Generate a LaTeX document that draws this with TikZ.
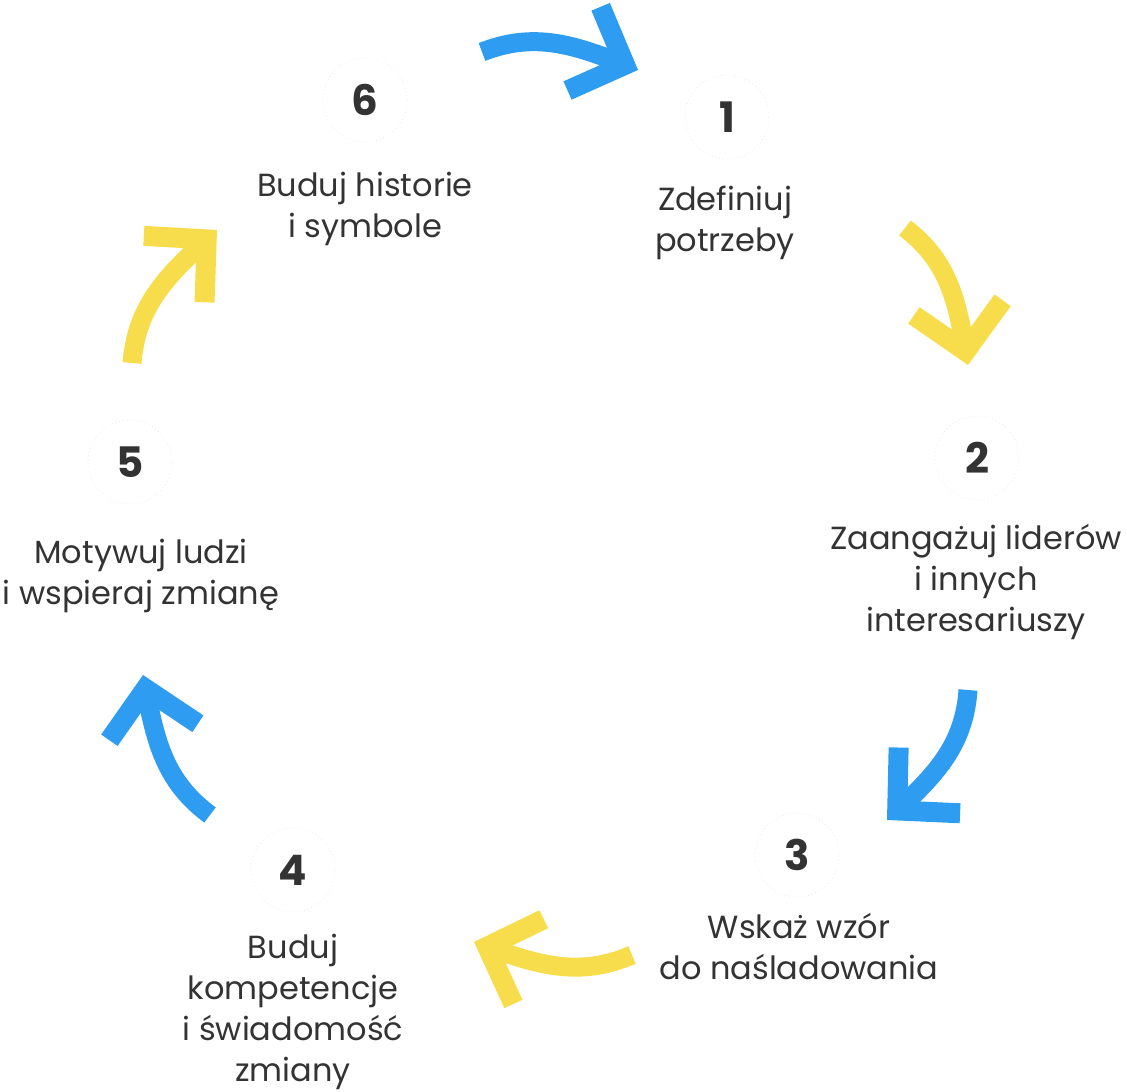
\documentclass[tikz,border=0pt]{standalone}
\usepackage{fontspec}
\setmainfont{Poppins}
\usetikzlibrary{arrows.meta,bending}

\definecolor{cycblue}{HTML}{2E9CF0}
\definecolor{cycyellow}{HTML}{F7DD4C}
\definecolor{txtgray}{HTML}{333333}

\tikzset{
  numcirc/.style={circle,minimum size=84pt,inner sep=0pt,
    draw=black!8,dash pattern=on 0.8pt off 3pt,line width=0.8pt,
    text=txtgray,font=\fontsize{42}{44}\selectfont\bfseries},
  steptext/.style={anchor=base,align=center,inner sep=0pt,text=txtgray,
    font=\fontsize{32}{41.3}\selectfont},
  cycarrow/.style={line width=19pt,relative,out=28,in=165,
    -{Straight Barb[length=44pt,width=90pt,line width=20pt]}},
}

\begin{document}
\begin{tikzpicture}[x=1pt,y=1pt]
\useasboundingbox (0,0) rectangle (1127,1092);

% numbered steps
\node[numcirc] (n1) at (727,975) {1};
\node[numcirc] (n2) at (977,634) {2};
\node[numcirc] (n3) at (797,237) {3};
\node[numcirc] (n4) at (293,222) {4};
\node[numcirc] (n5) at (130,630) {5};
\node[numcirc] (n6) at (365,992) {6};

% step texts (base = last line)
\node[steptext] (t1) at (725,840) {Zdefiniuj\\potrzeby};
\node[steptext] (t2) at (976,460) {Zaangażuj liderów\\i innych\\interesariuszy};
\node[steptext] (t3) at (799,112) {Wskaż wzór\\do naśladowania};
\node[steptext] (t4) at (293,10) {Buduj\\kompetencje\\i świadomość\\zmiany};
\node[steptext] (t5) at (141,487) {Motywuj ludzi\\i wspieraj zmianę};
\node[steptext] (t6) at (365,854) {Buduj historie\\i symbole};

% arrow ends
\coordinate (a6s) at (482,1040);
\coordinate (a6e) at (638,1022);
\coordinate (a1s) at (905,864);
\coordinate (a1e) at (968,727);
\coordinate (a2s) at (968,402);
\coordinate (a2e) at (887,272);
\coordinate (a3s) at (632,137);
\coordinate (a3e) at (474,150);
\coordinate (a4s) at (210,277);
\coordinate (a4e) at (143,417);
\coordinate (a5s) at (132,729);
\coordinate (a5e) at (217,862);

% arrows
\draw[cycarrow,cycblue] (a6s) to (a6e);
\draw[cycarrow,cycyellow] (a1s) to (a1e);
\draw[cycarrow,cycblue] (a2s) to (a2e);
\draw[cycarrow,cycyellow] (a3s) to (a3e);
\draw[cycarrow,cycblue] (a4s) to (a4e);
\draw[cycarrow,cycyellow] (a5s) to (a5e);
\end{tikzpicture}
\end{document}
